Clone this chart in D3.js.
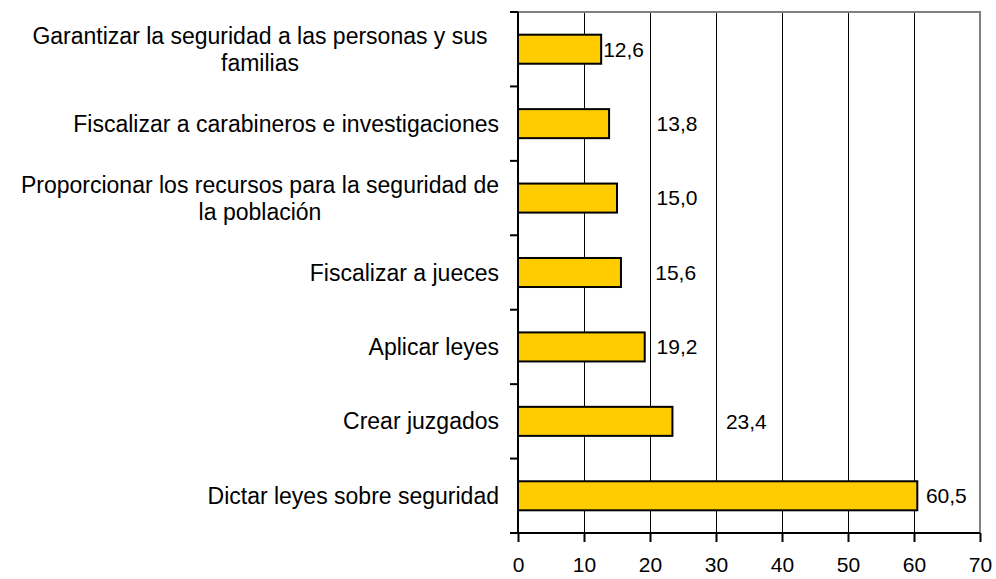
<!DOCTYPE html>
<html lang="es">
  <head>
    <meta charset="UTF-8" />
    <title>Responsabilidades en seguridad</title>
    <script src="https://cdnjs.cloudflare.com/ajax/libs/d3/7.8.5/d3.min.js"></script>
    <style>
      body {
        margin: 0;
        background: #fff;
        font-family: "Liberation Sans", Arial, sans-serif;
      }
      .cat-label {
        font-size: 23px;
        fill: #000;
      }
      .val-label,
      .tick-label {
        font-size: 21px;
        fill: #000;
      }
    </style>
  </head>
  <body>
    <div id="chart"></div>
    <script>
      // chart data, top to bottom
      const categories = [
        "Garantizar la seguridad a las personas y sus familias",
        "Fiscalizar a carabineros e investigaciones",
        "Proporcionar los recursos para la seguridad de la población",
        "Fiscalizar a jueces",
        "Aplicar leyes",
        "Crear juzgados",
        "Dictar leyes sobre seguridad",
      ];
      const values = [12.6, 13.8, 15.0, 15.6, 19.2, 23.4, 60.5];
      const valueText = ["12,6", "13,8", "15,0", "15,6", "19,2", "23,4", "60,5"];
      const xTicks = [0, 10, 20, 30, 40, 50, 60, 70];
      // where each value label starts, in axis units (as placed in the original)
      const labelAt = [12.9, 21.0, 21.0, 20.8, 21.0, 31.5, 61.8];

      const width = 996;
      const height = 579;
      const margin = { top: 12, right: 16, bottom: 46, left: 518 };

      const svg = d3
        .select("#chart")
        .append("svg")
        .attr("width", width)
        .attr("height", height);

      const x = d3
        .scaleLinear()
        .domain([0, 70])
        .range([margin.left, width - margin.right]);

      const y = d3
        .scaleBand()
        .domain(categories)
        .range([margin.top, height - margin.bottom])
        .paddingInner(0.61)
        .paddingOuter(0.305);

      const plotTop = margin.top;
      const plotBottom = height - margin.bottom;

      // vertical gridlines
      svg
        .append("g")
        .selectAll("line")
        .data(xTicks.filter((d) => d > 0 && d < 70))
        .enter()
        .append("line")
        .attr("x1", (d) => Math.round(x(d)) + 0.5)
        .attr("x2", (d) => Math.round(x(d)) + 0.5)
        .attr("y1", plotTop)
        .attr("y2", plotBottom)
        .attr("stroke", "#000")
        .attr("stroke-width", 1);

      // gray frame top and right
      svg
        .append("path")
        .attr("d", `M${x(0)},${plotTop}H${x(70)}V${plotBottom}`)
        .attr("fill", "none")
        .attr("stroke", "#808080")
        .attr("stroke-width", 2);

      // bars
      svg
        .append("g")
        .selectAll("rect")
        .data(values)
        .enter()
        .append("rect")
        .attr("x", x(0))
        .attr("y", (d, i) => y(categories[i]))
        .attr("width", (d) => x(d) - x(0))
        .attr("height", y.bandwidth())
        .attr("fill", "#FFCC00")
        .attr("stroke", "#000")
        .attr("stroke-width", 2);

      // value labels
      svg
        .append("g")
        .selectAll("text")
        .data(valueText)
        .enter()
        .append("text")
        .attr("class", "val-label")
        .attr("x", (d, i) => x(labelAt[i]))
        .attr("y", (d, i) => y(categories[i]) + y.bandwidth() / 2)
        .attr("dy", "0.35em")
        .text((d) => d);

      // left axis with ticks at band boundaries
      const step = y.step();
      const bounds = d3.range(categories.length + 1).map((i) => plotTop + i * step);
      svg
        .append("line")
        .attr("x1", x(0))
        .attr("x2", x(0))
        .attr("y1", plotTop)
        .attr("y2", plotBottom)
        .attr("stroke", "#000")
        .attr("stroke-width", 2);
      svg
        .append("g")
        .selectAll("line")
        .data(bounds)
        .enter()
        .append("line")
        .attr("x1", x(0) - 8)
        .attr("x2", x(0))
        .attr("y1", (d) => d)
        .attr("y2", (d) => d)
        .attr("stroke", "#000")
        .attr("stroke-width", 2);

      // bottom axis
      const xAxis = d3
        .axisBottom(x)
        .tickValues(xTicks)
        .tickSize(9)
        .tickPadding(15)
        .tickFormat(d3.format("d"));
      const gx = svg
        .append("g")
        .attr("transform", `translate(0,${plotBottom})`)
        .call(xAxis);
      gx.select(".domain")
        .attr("stroke", "#000")
        .attr("stroke-width", 2)
        .attr("d", `M${x(0)},0H${x(70)}`);
      gx.selectAll(".tick line").attr("stroke", "#000").attr("stroke-width", 2);
      gx.selectAll(".tick text")
        .attr("class", "tick-label")
        .attr("font-family", null)
        .attr("font-size", null)
        .attr("fill", "#000");

      // category labels (wrapped when wider than the label area)
      const maxLabelWidth = 490;
      const labelRight = x(0) - 19;
      const labelG = svg.append("g");
      categories.forEach((name, i) => {
        const cy = y(name) + y.bandwidth() / 2;
        const t = labelG.append("text").attr("class", "cat-label");
        const words = name.split(" ");
        const lines = [];
        let line = [];
        words.forEach((w) => {
          line.push(w);
          t.text(line.join(" "));
          if (t.node().getComputedTextLength() > maxLabelWidth && line.length > 1) {
            line.pop();
            lines.push(line.join(" "));
            line = [w];
          }
        });
        lines.push(line.join(" "));
        t.text(null);
        if (lines.length === 1) {
          t.attr("text-anchor", "end")
            .attr("x", labelRight)
            .attr("y", cy)
            .attr("dy", "0.35em")
            .text(lines[0]);
        } else {
          const lh = 27;
          lines.forEach((l, k) => {
            t.append("tspan")
              .attr("text-anchor", "middle")
              .attr("x", 260)
              .attr("y", cy + (k - (lines.length - 1) / 2) * lh)
              .attr("dy", "0.35em")
              .text(l);
          });
        }
      });
    </script>
  </body>
</html>
